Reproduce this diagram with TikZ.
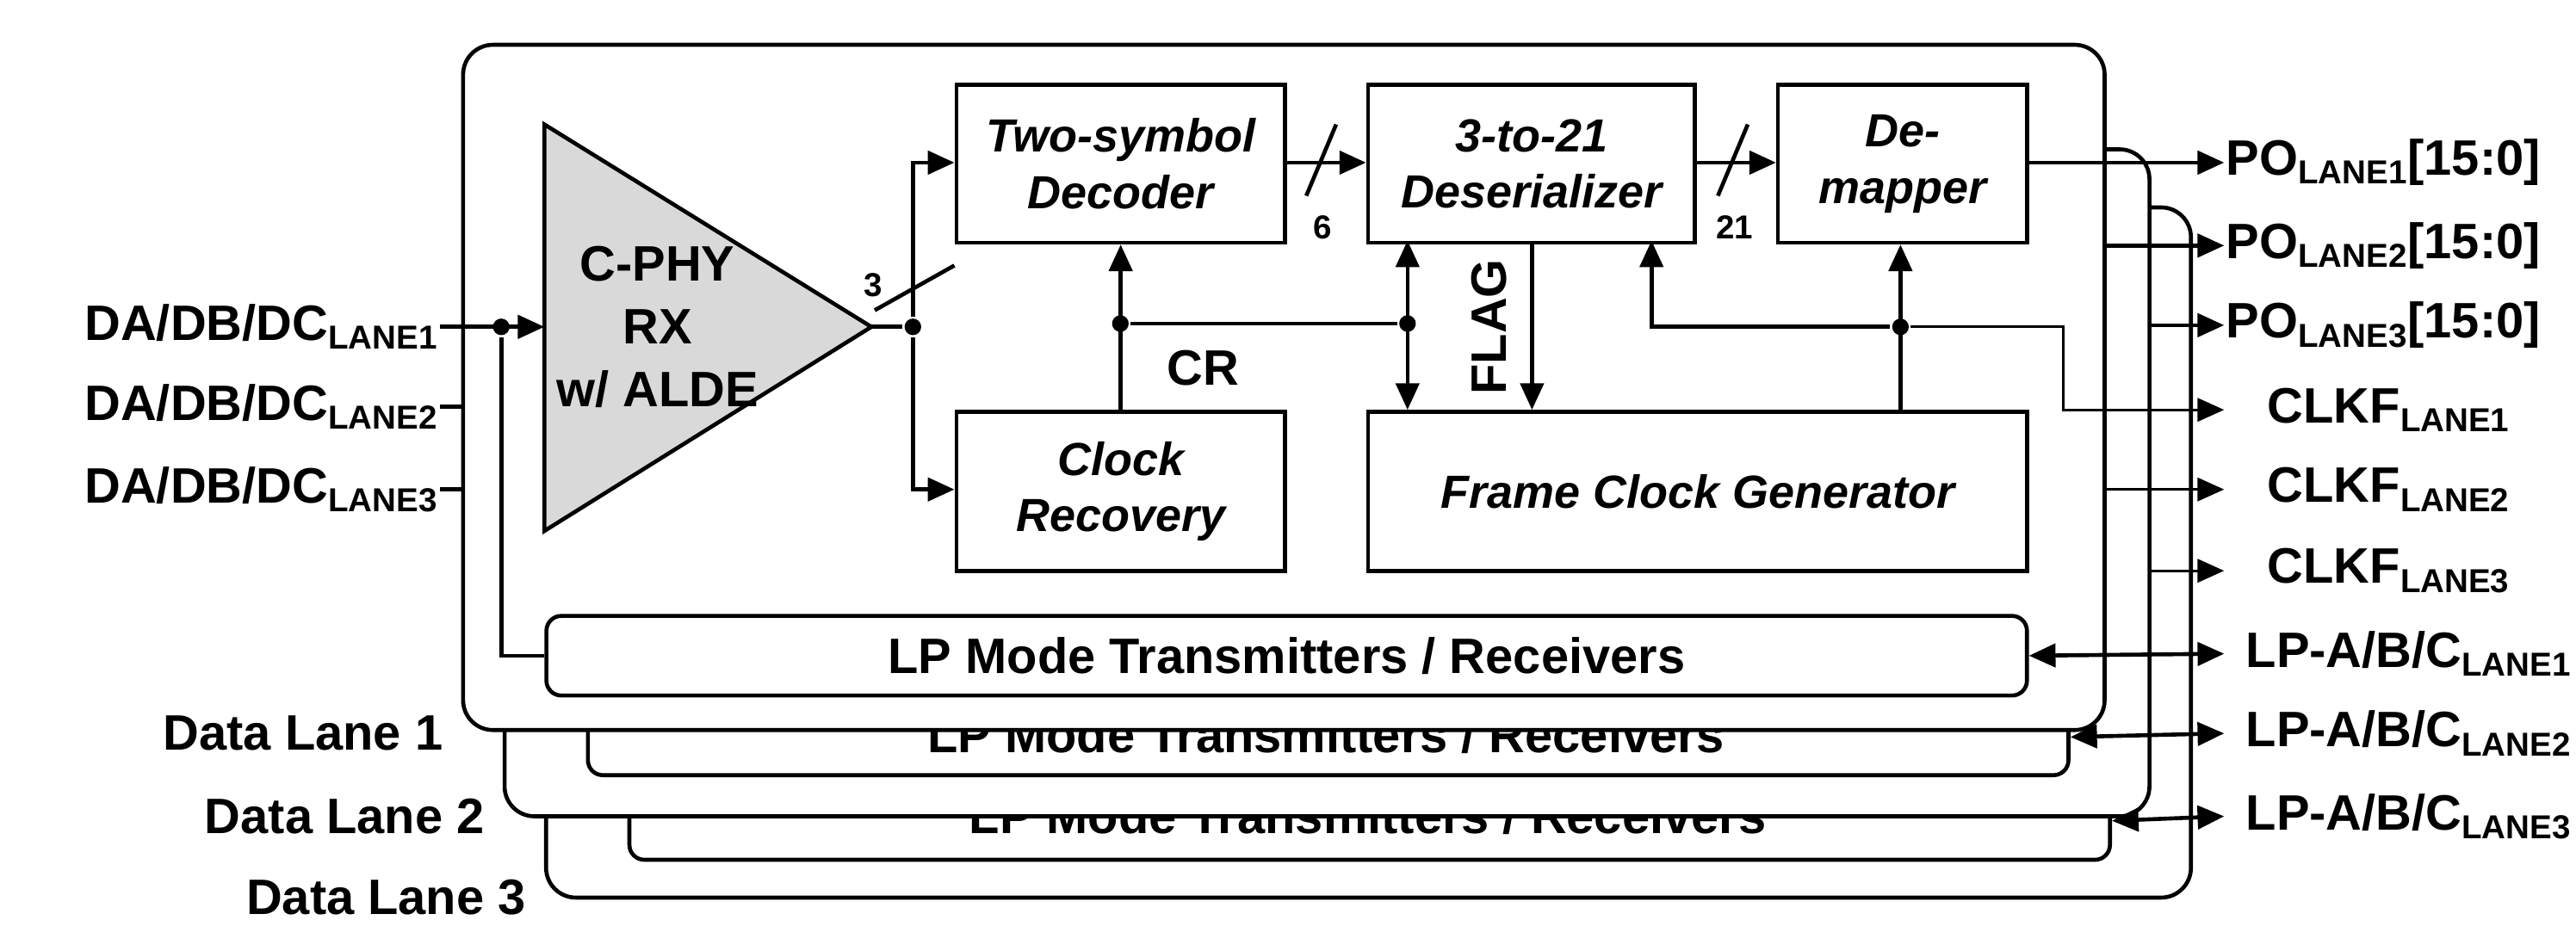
\documentclass[tikz,border=0pt]{standalone}
\usepackage{fontspec}
\setmainfont{Liberation Sans}
\usetikzlibrary{arrows.meta}
\begin{document}
\begin{tikzpicture}[x=1pt,y=-1pt,line width=2.4pt,
  frame/.style={draw,fill=white,rounded corners=18pt},
  lp/.style={draw,fill=white,rounded corners=9pt},
  blk/.style={draw,fill=white,font=\fontsize{28}{30}\selectfont\bfseries\itshape,align=center,inner sep=0pt},
  lbl/.style={font=\fontsize{30}{32}\selectfont\bfseries,inner sep=0pt},
  sm/.style={font=\fontsize{20}{22}\selectfont\bfseries,inner sep=0pt},
  arr/.style={-{Triangle[length=16pt,width=14pt]}},
  darr/.style={{Triangle[length=16pt,width=14pt]}-{Triangle[length=16pt,width=14pt]}},
  dot/.style={circle,fill,inner sep=0pt,minimum size=10pt}]
\newcommand\lane[1]{\textsubscript{\fontsize{20}{22}\selectfont #1}}
\useasboundingbox (0,0) rectangle (1552,573);
% back frames
\draw[frame] (329,125) rectangle (1320,541);
\node[lp,minimum width=892pt,minimum height=47pt,anchor=north west] (lp3) at (378,470) {};
\node[lbl] at (824,492) {LP Mode Transmitters / Receivers};
\draw[frame] (304,90) rectangle (1295,492);
\node[lp,minimum width=892pt,minimum height=46pt,anchor=north west] (lp2) at (353,420) {};
\node[lbl] at (799,443) {LP Mode Transmitters / Receivers};
\draw[frame] (279,27) rectangle (1268,440);
\node[lp,minimum width=892pt,minimum height=48pt,lbl,anchor=north west] (lp1) at (328,370) {LP Mode Transmitters / Receivers};
\node[lbl,anchor=east] (dl1) at (268,442) {Data Lane 1};
\node[lbl,anchor=east] (dl2) at (293,492) {Data Lane 2};
\node[lbl,anchor=east] (dl3) at (318,541) {Data Lane 3};
% triangle
\draw[fill=black!15] (328,75) -- (328,320) -- (525,197) -- cycle;
\coordinate (tri) at (328,197);
\coordinate (triout) at (525,197);
\node[lbl,align=center] at (396,197) {C-PHY\\[6pt]RX\\[6pt]w/ ALDE};
% blocks
\node[blk,minimum width=198pt,minimum height=95pt,anchor=north west] (dec) at (575,50) {Two-symbol\\[4pt]Decoder};
\node[blk,minimum width=198pt,minimum height=96pt,anchor=north west] (cr) at (575,247) {Clock\\[4pt]Recovery};
\node[blk,minimum width=197pt,minimum height=95pt,anchor=north west] (des) at (823,50) {3-to-21\\[4pt]Deserializer};
\node[blk,minimum width=150pt,minimum height=95pt,anchor=north west] (dem) at (1070,50) {De-\\[4pt]mapper};
\node[blk,minimum width=397pt,minimum height=96pt,anchor=north west] (fcg) at (823,247) {Frame Clock Generator};
% inputs
\node[lbl,anchor=east] (in1) at (265,197) {DA/DB/DC\lane{LANE1}};
\node[lbl,anchor=east] (in2) at (265,245) {DA/DB/DC\lane{LANE2}};
\node[lbl,anchor=east] (in3) at (265,295) {DA/DB/DC\lane{LANE3}};
\draw[arr] (in1.east) -- (tri);
\draw (in2.east) -- (279,245);
\draw (in3.east) -- (279,295);
\node[dot] (d0) at (302,197) {};
\draw (d0) |- (lp1.west);
% triangle out
\node[dot] (d1) at (550,197) {};
\draw (triout) -- (d1);
\draw[arr] (d1) |- (dec.west |- 0,98);
\draw[arr] (d1) |- (cr.west |- 0,295);
\draw (527,187) -- (575,160);
\node[sm] at (526,172) {3};
% CR
\node[dot] (d2) at (675,195) {};
\node[dot] (d3) at (848,195) {};
\draw[arr] (cr.north) -- (dec.south);
\draw (d2) -- (d3);
\node[lbl] at (725,222) {CR};
\draw[darr] (848,145) -- (848,247);
% decoder -> des
\draw[arr] (dec.east |- 0,98) -- (des.west |- 0,98);
\draw (787,118) -- (805,75);
\node[sm] at (797,137) {6};
\draw[arr] (des.east |- 0,98) -- (dem.west |- 0,98);
\draw (1035,118) -- (1053,75);
\node[sm] at (1045,137) {21};
% FLAG
\draw[arr] (923,145) -- (923,247);
\node[lbl,rotate=90] at (897,197) {FLAG};
% feedback
\node[dot] (d4) at (1145,197) {};
\draw[arr] (fcg.north -| d4) -- (dem.south -| d4);
\draw[arr] (d4) -| (995,145);
% outputs
\node[lbl,anchor=west] (po1) at (1340,98) {PO\lane{LANE1}[15:0]};
\node[lbl,anchor=west] (po2) at (1340,148) {PO\lane{LANE2}[15:0]};
\node[lbl,anchor=west] (po3) at (1340,196) {PO\lane{LANE3}[15:0]};
\node[lbl,anchor=west] (ck1) at (1365,247) {CLKF\lane{LANE1}};
\node[lbl,anchor=west] (ck2) at (1365,295) {CLKF\lane{LANE2}};
\node[lbl,anchor=west] (ck3) at (1365,344) {CLKF\lane{LANE3}};
\node[lbl,anchor=west] (lpo1) at (1352,394) {LP-A/B/C\lane{LANE1}};
\node[lbl,anchor=west] (lpo2) at (1352,442) {LP-A/B/C\lane{LANE2}};
\node[lbl,anchor=west] (lpo3) at (1352,492) {LP-A/B/C\lane{LANE3}};
\draw[arr] (dem.east |- 0,98) -- (po1.west);
\draw[arr] (1268,148) -- (po2.west);
\draw[arr] (1295,196) -- (po3.west);
\draw[arr,line width=1.6pt] (d4) -| (1243,247) -- (ck1.west -| 1340,0);
\draw[arr,line width=1.6pt] (1268,295) -- (1340,295);
\draw[arr,line width=1.6pt] (1295,344) -- (1340,344);
\draw[darr] (lp1.east) -- (1340,394);
\draw[darr] (lp2.east) -- (1340,442);
\draw[darr] (lp3.east) -- (1340,492);
\end{tikzpicture}
\end{document}
